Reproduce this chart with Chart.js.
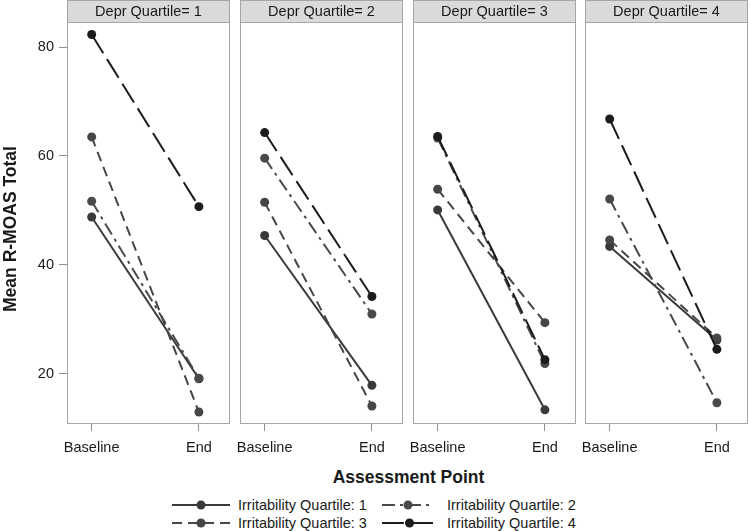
<!DOCTYPE html>
<html>
<head>
<meta charset="utf-8">
<script src="https://cdn.jsdelivr.net/npm/chart.js@4.4.1/dist/chart.umd.min.js"></script>
<style>
  html, body { margin:0; padding:0; background:#fff; }
  #wrap { position:relative; width:750px; height:531px; background:#fff; overflow:hidden;
          font-family:"Liberation Sans", Arial, sans-serif; color:#1a1a1a; }
  #wrap canvas { position:absolute; top:0; }
  .xt { position:absolute; left:0; width:817px; top:466px; text-align:center; font-weight:bold; font-size:17.5px; line-height:22px; }
  .lg { position:absolute; font-size:14.5px; line-height:18px; white-space:nowrap; }
  .sym { position:absolute; }
</style>
</head>
<body>
<div id="wrap">
  <canvas id="p0" width="270" height="460"></canvas>
  <canvas id="p1" width="243" height="460"></canvas>
  <canvas id="p2" width="243" height="460"></canvas>
  <canvas id="p3" width="243" height="460"></canvas>
  <div class="xt">Assessment Point</div>
  <div id="legend"></div>
</div>
<script>
// ---------------- DATA ----------------
const panelTitles = ['Depr Quartile= 1', 'Depr Quartile= 2', 'Depr Quartile= 3', 'Depr Quartile= 4'];
const categories = ['Baseline', 'End'];
const yTickValues = [20, 40, 60, 80];
const yAxisTitle = 'Mean R-MOAS Total';
const seriesNames = ['Irritability Quartile: 1', 'Irritability Quartile: 2', 'Irritability Quartile: 3', 'Irritability Quartile: 4'];
// [Baseline, End] for each depression quartile panel 1..4
const irr1 = [[48.8, 19.1], [45.4, 17.9], [50.1, 13.4], [43.4, 26.2]];
const irr2 = [[51.7, 19.2], [59.6, 31.0], [63.3, 21.9], [52.1, 14.7]];
const irr3 = [[63.5, 13.0], [51.5, 14.1], [53.9, 29.4], [44.6, 26.6]];
const irr4 = [[82.3, 50.7], [64.3, 34.2], [63.6, 22.6], [66.8, 24.5]];

// ---------------- STYLE ----------------
const seriesData = [irr1, irr2, irr3, irr4];
const colors = ['#3a3a3a', '#4a4a4a', '#464646', '#1c1c1c'];
const dashes = [[], [13, 5, 3, 5], [10, 6], [22, 7]];
const FONT = '"Liberation Sans", Arial, sans-serif';
const panelLeft = [67, 240, 413, 585];
const panelW = 163;

const deco = {
  id: 'deco',
  beforeDatasetsDraw(chart, args, opts) {
    const { ctx, chartArea: { left, right, top, bottom } } = chart;
    ctx.save();
    // header
    ctx.fillStyle = '#dadada';
    ctx.fillRect(left, 0, right - left, top);
    ctx.strokeStyle = '#a6a6a6';
    ctx.lineWidth = 1;
    ctx.strokeRect(left + 0.5, 0.5, right - left - 1, top);
    // panel frame
    ctx.strokeRect(left + 0.5, top + 0.5, right - left - 1, bottom - top - 1);
    ctx.fillStyle = '#1a1a1a';
    ctx.font = '14.5px ' + FONT;
    ctx.textAlign = 'center';
    ctx.textBaseline = 'middle';
    ctx.fillText(opts.title, (left + right) / 2, top / 2 + 1);
    if (opts.yTitle) {
      ctx.translate(11, 229);
      ctx.rotate(-Math.PI / 2);
      ctx.font = 'bold 17.5px ' + FONT;
      ctx.fillText(opts.yTitle, 0, 0);
    }
    ctx.restore();
  }
};

function makePanel(i) {
  const first = i === 0;
  const cv = document.getElementById('p' + i);
  cv.style.left = (first ? 0 : panelLeft[i] - 40) + 'px';
  const datasets = seriesData.map((s, k) => ({
    label: seriesNames[k],
    data: categories.map((c, j) => ({ x: j, y: s[i][j] })),
    borderColor: colors[k],
    backgroundColor: colors[k],
    borderWidth: 2,
    borderDash: dashes[k],
    pointRadius: 4.5,
    pointHoverRadius: 4.5,
    pointBorderWidth: 0,
    tension: 0
  })).reverse();
  new Chart(cv, {
    type: 'line',
    data: { datasets },
    plugins: [deco],
    options: {
      responsive: false,
      animation: false,
      devicePixelRatio: 1,
      layout: { padding: { left: first ? 0 : 40, right: 40, top: 22, bottom: 0 } },
      plugins: {
        legend: { display: false },
        tooltip: { enabled: false },
        deco: { title: panelTitles[i], yTitle: first ? yAxisTitle : null }
      },
      scales: {
        x: {
          type: 'linear',
          min: -0.23,
          max: 1.29,
          afterBuildTicks: (s) => { s.ticks = categories.map((c, j) => ({ value: j })); },
          afterFit: (s) => { s.height = 36; },
          ticks: {
            autoSkip: false,
            maxRotation: 0,
            padding: 8,
            color: '#1a1a1a',
            font: { family: FONT, size: 14.5 },
            callback: (v) => categories[v]
          },
          grid: { drawOnChartArea: false, drawTicks: true, tickLength: 7, color: '#8f8f8f' },
          border: { display: false }
        },
        y: {
          display: first,
          min: 10.8,
          max: 84.6,
          afterBuildTicks: (s) => { s.ticks = yTickValues.map(v => ({ value: v })); },
          afterFit: (s) => { s.width = first ? 67 : 0; },
          ticks: {
            padding: 5,
            color: '#1a1a1a',
            font: { family: FONT, size: 14.5 }
          },
          grid: { drawOnChartArea: false, drawTicks: true, tickLength: 8, color: '#8f8f8f' },
          border: { display: false }
        }
      }
    }
  });
}
[0, 1, 2, 3].forEach(makePanel);

// ---------------- LEGEND ----------------
const legendPos = [
  { sx: 172, sw: 58, tx: 238, y: 505 },
  { sx: 382, sw: 52, tx: 447, y: 505 },
  { sx: 172, sw: 58, tx: 238, y: 523 },
  { sx: 382, sw: 55, tx: 447, y: 523 }
];
const lg = document.getElementById('legend');
seriesNames.forEach((name, k) => {
  const p = legendPos[k];
  const svgNS = 'http://www.w3.org/2000/svg';
  const svg = document.createElementNS(svgNS, 'svg');
  svg.setAttribute('width', p.sw);
  svg.setAttribute('height', 12);
  svg.setAttribute('class', 'sym');
  svg.style.left = p.sx + 'px';
  svg.style.top = (p.y - 6) + 'px';
  const ln = document.createElementNS(svgNS, 'line');
  ln.setAttribute('x1', 0); ln.setAttribute('x2', p.sw);
  ln.setAttribute('y1', 6); ln.setAttribute('y2', 6);
  ln.setAttribute('stroke', colors[k]); ln.setAttribute('stroke-width', 2);
  if (dashes[k].length) ln.setAttribute('stroke-dasharray', dashes[k].join(' '));
  const c = document.createElementNS(svgNS, 'circle');
  c.setAttribute('cx', p.sw / 2); c.setAttribute('cy', 6); c.setAttribute('r', 4.5);
  c.setAttribute('fill', colors[k]);
  svg.appendChild(ln); svg.appendChild(c);
  lg.appendChild(svg);
  const t = document.createElement('div');
  t.className = 'lg';
  t.textContent = name;
  t.style.left = p.tx + 'px';
  t.style.top = (p.y - 9) + 'px';
  lg.appendChild(t);
});
</script>
</body>
</html>
